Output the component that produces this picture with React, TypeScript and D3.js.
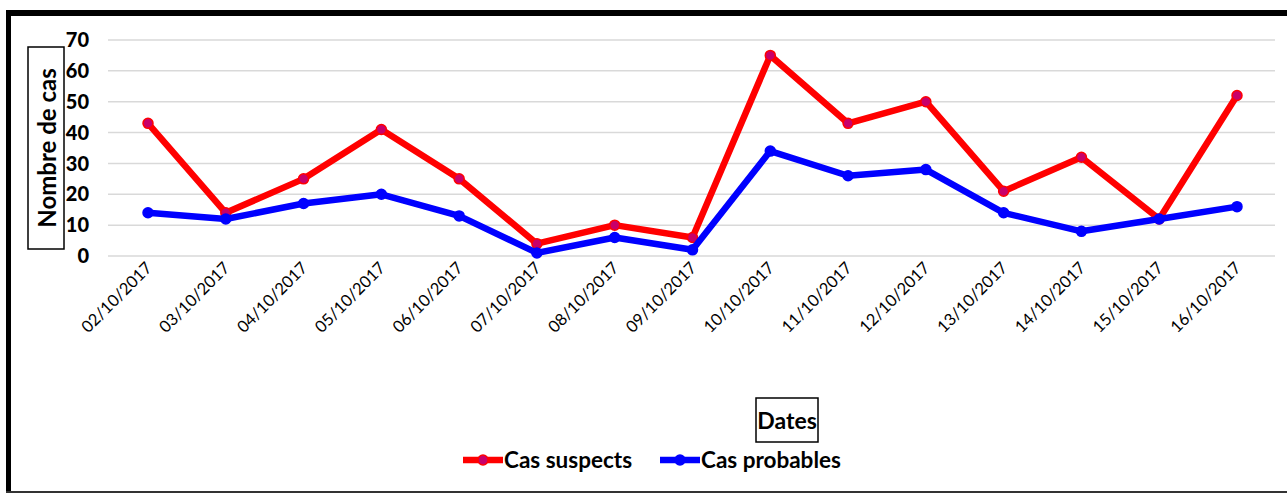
import * as d3 from 'd3';

const dates = [
  '02/10/2017', '03/10/2017', '04/10/2017', '05/10/2017', '06/10/2017',
  '07/10/2017', '08/10/2017', '09/10/2017', '10/10/2017', '11/10/2017',
  '12/10/2017', '13/10/2017', '14/10/2017', '15/10/2017', '16/10/2017',
];
const casSuspects = [43, 14, 25, 41, 25, 4, 10, 6, 65, 43, 50, 21, 32, 12, 52];
const casProbables = [14, 12, 17, 20, 13, 1, 6, 2, 34, 26, 28, 14, 8, 12, 16];
const yTicks = [0, 10, 20, 30, 40, 50, 60, 70];

const W = 1287;
const H = 495;
const FONT = 'Lato, "Open Sans", sans-serif';

const series = [
  { name: 'Cas suspects', values: casSuspects, color: '#FF0000', marker: '#C8006A' },
  { name: 'Cas probables', values: casProbables, color: '#0000FF', marker: '#0000FF' },
];

export default function App() {
  const x = d3.scalePoint<string>().domain(dates).range([148, 1237]);
  const y = d3.scaleLinear().domain([0, 70]).range([256, 40]);
  const line = d3
    .line<number>()
    .x((_, i) => x(dates[i]) as number)
    .y((d) => y(d));

  return (
    <svg
      width={W}
      height={H}
      style={{ position: 'absolute', left: 0, top: 0, background: '#fff' }}
      fontFamily={FONT}
    >
      {/* outer frame */}
      <line x1={6} x2={W} y1={13} y2={13} stroke="#000" strokeWidth={6} />
      <line x1={8.5} x2={8.5} y1={10} y2={493} stroke="#000" strokeWidth={5} />
      <line x1={6} x2={W} y1={492} y2={492} stroke="#333" strokeWidth={2} />

      {/* gridlines and y ticks */}
      {yTicks.map((t) => (
        <g key={t}>
          <line x1={108} x2={1275} y1={y(t)} y2={y(t)} stroke="#d9d9d9" strokeWidth={1.5} />
          <text x={89} y={y(t)} dy="0.36em" textAnchor="end" fontWeight="900" fontSize={20}>
            {t}
          </text>
        </g>
      ))}

      {/* y axis title */}
      <rect x={28} y={47} width={36} height={202} fill="#fff" stroke="#000" strokeWidth={1.5} />
      <text
        transform="translate(47,148) rotate(-90)"
        textAnchor="middle"
        dy="0.36em"
        fontWeight="bold"
        fontSize={24}
      >
        Nombre de cas
      </text>

      {/* x labels */}
      {dates.map((d) => (
        <text
          key={d}
          transform={`translate(${(x(d) as number) + 5},${269}) rotate(-45)`}
          textAnchor="end"
          fontSize={16.5}
        >
          {d}
        </text>
      ))}

      {/* series */}
      {series.map((s) => (
        <g key={s.name}>
          <path d={line(s.values) ?? ''} fill="none" stroke={s.color} strokeWidth={6.5} strokeLinejoin="round" />
          {s.values.map((v, i) => (
            <circle
              key={i}
              cx={x(dates[i]) as number}
              cy={y(v)}
              r={5}
              fill={s.marker}
              stroke={s.color}
              strokeWidth={1.5}
            />
          ))}
        </g>
      ))}

      {/* x axis title */}
      <rect x={756} y={398} width={62} height={44} fill="#fff" stroke="#000" strokeWidth={1.5} />
      <text x={787} y={421} dy="0.36em" textAnchor="middle" fontWeight="bold" fontSize={23}>
        Dates
      </text>

      {/* legend */}
      {series.map((s, i) => {
        const lx = i === 0 ? 463 : 660;
        return (
          <g key={s.name} transform={`translate(${lx},460)`}>
            <line x1={0} x2={40} y1={0} y2={0} stroke={s.color} strokeWidth={6.5} />
            <circle cx={20} cy={0} r={5} fill={s.marker} stroke={s.color} strokeWidth={1.5} />
            <text x={41} dy="0.36em" fontWeight="bold" fontSize={22.5}>
              {s.name}
            </text>
          </g>
        );
      })}
    </svg>
  );
}
